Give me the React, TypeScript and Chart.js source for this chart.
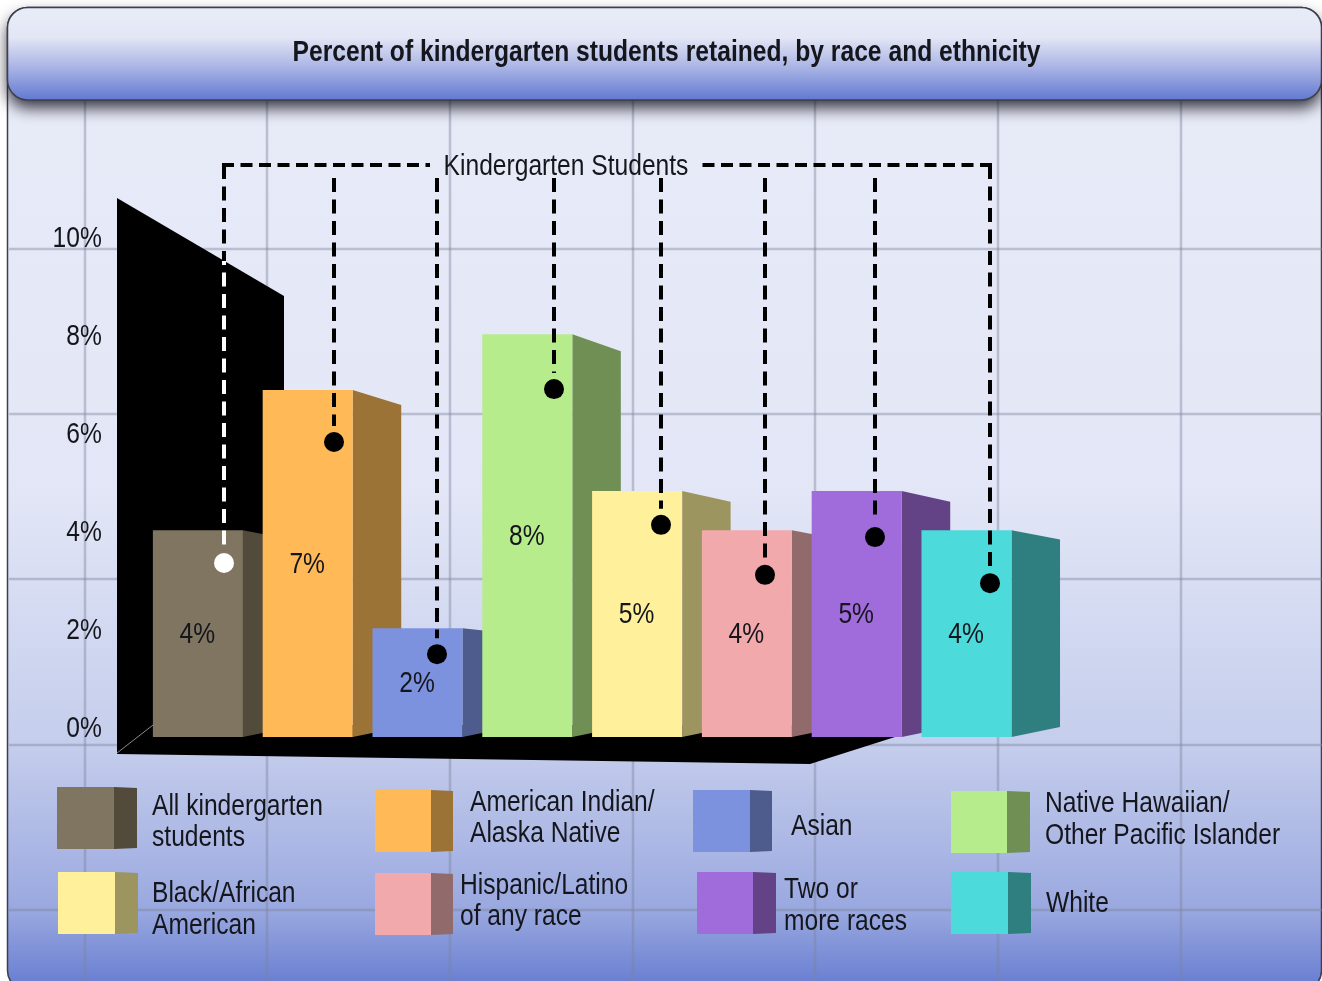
import React, { useEffect, useRef } from "react";
import { Chart, registerables } from "chart.js";

Chart.register(...registerables);

const categories = ["All kindergarten students", "American Indian/Alaska Native", "Asian", "Native Hawaiian/Other Pacific Islander", "Black/African American", "Hispanic/Latino of any race", "Two or more races", "White"];
const values = [4.22, 7.08, 2.22, 8.22, 5.02, 4.22, 5.02, 4.22];
const valueLabels = ["4%", "7%", "2%", "8%", "5%", "4%", "5%", "4%"];
const leaderValues = [3.55, 6.02, 1.69, 7.1, 4.33, 3.31, 4.08, 3.14];
const frontColors = ["#7f7560", "#ffb957", "#7c92df", "#b7ec8d", "#fff09b", "#f1a9ac", "#a06bda", "#4ddadb"];
const sideColors = ["#524a3a", "#9b7336", "#4d5c8c", "#6f8f55", "#9d9560", "#916a6c", "#634286", "#2f7f80"];
const legendLines = [["All kindergarten", "students"], ["American Indian/", "Alaska Native"], ["Asian"], ["Native Hawaiian/", "Other Pacific Islander"], ["Black/African", "American"], ["Hispanic/Latino", "of any race"], ["Two or", "more races"], ["White"]];
const titleText = "Percent of kindergarten students retained, by race and ethnicity";
const calloutText = "Kindergarten Students";

const FONT = '"Liberation Sans", Arial, sans-serif';
const SQUEEZE = 0.82;
const leaderX = [224, 334, 437, 554, 661, 765, 875, 990];
const legendSwatches = [[57, 114, 137, 787], [375, 431, 453, 790], [693, 750, 772, 790], [951, 1007, 1030, 791], [58, 115, 138, 872], [375, 431, 453, 873], [697, 753, 776, 872], [951, 1008, 1031, 872]];
const legendText = [[152, 805, 836], [470, 801, 832], [791, 825], [1045, 802, 834], [152, 892, 924], [460, 884, 915], [784, 888, 920], [1046, 902]];

function poly(ctx: CanvasRenderingContext2D, pts: number[][], fill: string) {
  ctx.beginPath();
  pts.forEach((p, i) => (i ? ctx.lineTo(p[0], p[1]) : ctx.moveTo(p[0], p[1])));
  ctx.closePath();
  ctx.fillStyle = fill;
  ctx.fill();
}

function text(ctx: CanvasRenderingContext2D, s: string, x: number, y: number, font: string, align: CanvasTextAlign = "left", sx = SQUEEZE) {
  ctx.save();
  ctx.translate(x, y);
  ctx.scale(sx, 1);
  ctx.font = font;
  ctx.textAlign = align;
  ctx.textBaseline = "middle";
  ctx.fillStyle = "#15161c";
  ctx.fillText(s, 0, 0);
  ctx.restore();
}

const backdrop = {
  id: "backdrop",
  afterLayout(chart: any) {
    // narrow the axis labels the same way as all the other text
    const yS = chart.scales.y;
    if (!yS.__squeezed) {
      yS.__squeezed = true;
      const orig = yS.drawLabels.bind(yS);
      yS.drawLabels = (area: any) => {
        const ctx = chart.ctx;
        ctx.save();
        ctx.translate(101, 0);
        ctx.scale(SQUEEZE, 1);
        ctx.translate(-101, 0);
        orig(area);
        ctx.restore();
      };
    }
  },
  beforeDraw(chart: any) {
    const ctx: CanvasRenderingContext2D = chart.ctx;
    const W = chart.width, H = chart.height;
    ctx.save();
    // panel
    const g = ctx.createLinearGradient(0, 7, 0, 981);
    g.addColorStop(0, "#e9ecf8");
    g.addColorStop(0.5, "#e2e6f6");
    g.addColorStop(0.76, "#c4cdec");
    g.addColorStop(0.87, "#a9b5e4");
    g.addColorStop(0.93, "#98a7df");
    g.addColorStop(1, "#6b80d2");
    ctx.beginPath();
    ctx.roundRect(7.5, 7.5, W - 8, H + 2, 20);
    ctx.fillStyle = g;
    ctx.fill();
    ctx.strokeStyle = "#3c3f4c";
    ctx.lineWidth = 1.5;
    ctx.stroke();
    // background grid
    ctx.strokeStyle = "rgba(125,130,155,0.42)";
    ctx.lineWidth = 2.5;
    [85, 267, 450, 633, 815, 998, 1181].forEach((x) => {
      ctx.beginPath(); ctx.moveTo(x, 100); ctx.lineTo(x, H); ctx.stroke();
    });
    [249, 414, 579, 745, 910].forEach((y) => {
      ctx.beginPath(); ctx.moveTo(9, y); ctx.lineTo(W, y); ctx.stroke();
    });
    // header
    const hg = ctx.createLinearGradient(0, 7, 0, 100);
    hg.addColorStop(0, "#e9ecf8");
    hg.addColorStop(0.33, "#e3e6f5");
    hg.addColorStop(0.4, "#d5daf1");
    hg.addColorStop(0.65, "#a9b4e5");
    hg.addColorStop(1, "#6379d1");
    ctx.save();
    ctx.shadowColor = "rgba(20,20,30,0.85)";
    ctx.shadowBlur = 16;
    ctx.shadowOffsetY = 8;
    ctx.beginPath();
    ctx.roundRect(7.5, 7.5, W - 8, 92.5, 20);
    ctx.fillStyle = hg;
    ctx.fill();
    ctx.restore();
    ctx.strokeStyle = "#3c3f4c";
    ctx.lineWidth = 1.5;
    ctx.stroke();
    text(ctx, titleText, 666.5, 52.5, `bold 29px ${FONT}`, "center", 0.85);
    text(ctx, calloutText, 566, 167, `30px ${FONT}`, "center");
    // wall and floor
    poly(ctx, [[117, 198], [284, 296], [284, 737], [117, 754]], "#000");
    poly(ctx, [[117, 754], [153, 725], [830, 725], [895, 737], [810, 764]], "#000");
    ctx.strokeStyle = "#8a8a8a";
    ctx.lineWidth = 1;
    ctx.beginPath(); ctx.moveTo(117, 753); ctx.lineTo(153, 725); ctx.stroke();
    // bar sides
    const meta = chart.getDatasetMeta(0);
    meta.data.forEach((bar: any, i: number) => {
      const r = bar.x + bar.width / 2;
      const h = bar.base - bar.y;
      poly(ctx, [[r, bar.y], [r + 48.5, bar.y + 0.04 * h + 1], [r + 48.5, bar.base - 10], [r, bar.base]], sideColors[i]);
    });
    ctx.restore();
  },
  afterDatasetsDraw(chart: any) {
    const ctx: CanvasRenderingContext2D = chart.ctx;
    const meta = chart.getDatasetMeta(0);
    const yS = chart.scales.y;
    ctx.save();
    // value labels
    meta.data.forEach((bar: any, i: number) => {
      text(ctx, valueLabels[i], bar.x - 0.5, (bar.y + bar.base) / 2 + 1, `30px ${FONT}`, "center");
    });
    // leaders
    ctx.lineWidth = 4;
    ctx.strokeStyle = "#000";
    ctx.setLineDash([12, 6.5]);
    ctx.beginPath(); ctx.moveTo(222, 165); ctx.lineTo(430, 165); ctx.stroke();
    ctx.beginPath(); ctx.moveTo(992, 165); ctx.lineTo(702, 165); ctx.stroke();
    ctx.setLineDash([14, 7.5]);
    leaderX.forEach((x, i) => {
      const dotY = yS.getPixelForValue(leaderValues[i]);
      const start = i === 0 || i === 7 ? 165 : 178;
      const end = dotY - 16;
      if (i === 0) {
        // the line turns white where it crosses the black wall
        ctx.save();
        ctx.beginPath(); ctx.rect(0, 0, 1322, 261); ctx.clip();
        ctx.strokeStyle = "#000";
        ctx.beginPath(); ctx.moveTo(x, start); ctx.lineTo(x, end); ctx.stroke();
        ctx.restore();
        ctx.save();
        ctx.beginPath(); ctx.rect(0, 261, 1322, 720); ctx.clip();
        ctx.strokeStyle = "#fff";
        ctx.beginPath(); ctx.moveTo(x, start); ctx.lineTo(x, end); ctx.stroke();
        ctx.restore();
      } else {
        ctx.beginPath(); ctx.moveTo(x, start); ctx.lineTo(x, end); ctx.stroke();
      }
      ctx.save();
      ctx.setLineDash([]);
      ctx.beginPath();
      ctx.arc(x, dotY, 10, 0, Math.PI * 2);
      ctx.fillStyle = i === 0 ? "#fff" : "#000";
      ctx.fill();
      ctx.restore();
    });
    ctx.setLineDash([]);
    // legend
    categories.forEach((_, i) => {
      const [a, b, c, t] = legendSwatches[i];
      poly(ctx, [[b, t], [c, t + 1], [c, t + 61], [b, t + 62]], sideColors[i]);
      ctx.fillStyle = frontColors[i];
      ctx.fillRect(a, t, b - a, 62);
      legendLines[i].forEach((line, j) => {
        text(ctx, line, legendText[i][0], legendText[i][j + 1] + 2, `30px ${FONT}`);
      });
    });
    ctx.restore();
  },
};

export default function App() {
  const ref = useRef<HTMLCanvasElement>(null);
  useEffect(() => {
    const chart = new Chart(ref.current!, {
      type: "bar",
      data: {
        labels: categories,
        datasets: [{ label: "Percent retained", data: values, backgroundColor: frontColors, borderWidth: 0, categoryPercentage: 0.82, barPercentage: 1 }],
      },
      options: {
        responsive: false,
        animation: false,
        layout: { padding: { left: 0, top: 247, right: 300.6, bottom: 244 } },
        plugins: { legend: { display: false }, tooltip: { enabled: false }, title: { display: false } },
        scales: {
          x: { display: false },
          y: {
            min: 0,
            max: 10,
            afterFit: (s: any) => { s.width = 143; },
            grid: { display: false },
            border: { display: false },
            ticks: {
              stepSize: 2,
              padding: 33,
              labelOffset: -8,
              color: "#15161c",
              font: { family: FONT, size: 30 },
              callback: (v: any) => `${v}%`,
            },
          },
        },
      },
      plugins: [backdrop],
    } as any);
    return () => chart.destroy();
  }, []);
  return <canvas ref={ref} width={1322} height={981} style={{ position: "absolute", left: 0, top: 0, display: "block" }} />;
}
